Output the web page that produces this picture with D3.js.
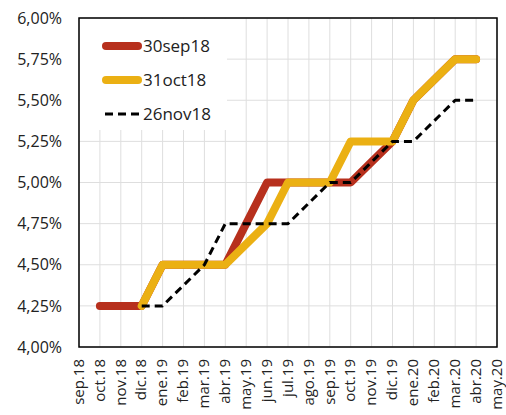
<!DOCTYPE html>
<html>
<head>
<meta charset="utf-8">
<script src="https://cdn.jsdelivr.net/npm/d3@7"></script>
<style>
  body { margin: 0; background: #fff; }
  text { font-family: "Open Sans", sans-serif; fill: #222; }
</style>
</head>
<body>
<svg id="chart" width="506" height="415"></svg>
<script>
var months = ['sep.18', 'oct.18', 'nov.18', 'dic.18', 'ene.19', 'feb.19', 'mar.19', 'abr.19',
  'may.19', 'jun.19', 'jul.19', 'ago.19', 'sep.19', 'oct.19', 'nov.19', 'dic.19',
  'ene.20', 'feb.20', 'mar.20', 'abr.20', 'may.20'];

var sep18 = [null, 4.25, 4.25, 4.25, 4.5, 4.5, 4.5, 4.5, 4.75, 5.0, 5.0, 5.0, 5.0, 5.0,
  5.125, 5.25, 5.5, 5.625, 5.75, 5.75, null];
var oct18 = [null, null, null, 4.25, 4.5, 4.5, 4.5, 4.5, 4.625, 4.75, 5.0, 5.0, 5.0, 5.25,
  5.25, 5.25, 5.5, 5.625, 5.75, 5.75, null];
var nov18 = [null, null, null, 4.25, 4.25, 4.375, 4.5, 4.75, 4.75, 4.75, 4.75, 4.875, 5.0, 5.0,
  5.125, 5.25, 5.25, 5.375, 5.5, 5.5, null];

var seriesNames = ['30sep18', '31oct18', '26nov18'];
var yTicks = [4.0, 4.25, 4.5, 4.75, 5.0, 5.25, 5.5, 5.75, 6.0];

var svg = d3.select('#chart'),
  margin = { top: 18, right: 9, bottom: 68, left: 79 },
  w = svg.attr('width') - margin.left - margin.right,
  h = svg.attr('height') - margin.top - margin.bottom;

var x = d3.scalePoint().domain(months).range([0, w]),
  y = d3.scaleLinear().domain([4, 6]).range([h, 0]);

var g = svg.append('g')
  .attr('transform', 'translate(' + margin.left + ',' + margin.top + ')');

// grid
g.append('g')
  .selectAll('line.v')
  .data(months)
  .enter()
  .append('line')
  .attr('x1', d => x(d)).attr('x2', d => x(d))
  .attr('y1', 0).attr('y2', h)
  .attr('stroke', '#dedede').attr('stroke-width', 1);

g.append('g')
  .selectAll('line.h')
  .data(yTicks)
  .enter()
  .append('line')
  .attr('x1', 0).attr('x2', w)
  .attr('y1', d => y(d)).attr('y2', d => y(d))
  .attr('stroke', '#dedede').attr('stroke-width', 1);

// legend background hides the grid
g.append('rect')
  .attr('x', 1).attr('y', 1)
  .attr('width', 147).attr('height', 111)
  .attr('fill', '#fff');

// axes
var fmt = d => d3.format('.2f')(d).replace('.', ',') + '%';

var yAxis = g.append('g')
  .call(d3.axisLeft(y).tickValues(yTicks).tickFormat(fmt).tickSize(0).tickPadding(17));
yAxis.select('.domain').remove();
yAxis.selectAll('text').style('font-size', '16px').attr('fill', '#222');

var xAxis = g.append('g')
  .attr('transform', 'translate(0,' + h + ')')
  .call(d3.axisBottom(x).tickSize(0));
xAxis.select('.domain').remove();
xAxis.selectAll('text')
  .style('font-size', '15px')
  .attr('fill', '#222')
  .attr('transform', 'rotate(-90)')
  .attr('text-anchor', 'end')
  .attr('x', -12)
  .attr('y', -1)
  .attr('dy', '0.35em');

g.append('rect')
  .attr('x', 0).attr('y', 0)
  .attr('width', w).attr('height', h)
  .attr('fill', 'none')
  .attr('stroke', '#000').attr('stroke-width', 1.5);

// lines
var line = d3.line()
  .defined(d => d.v != null)
  .x(d => x(d.m))
  .y(d => y(d.v));

function pts(arr) {
  return months.map((m, i) => ({ m: m, v: arr[i] }));
}

var styles = [
  { data: sep18, color: '#b7301d', width: 8, dash: null, cap: 'round' },
  { data: oct18, color: '#ebb013', width: 8, dash: null, cap: 'round' },
  { data: nov18, color: '#000', width: 3, dash: '8,5', cap: 'butt' }
];

styles.forEach(function(s) {
  g.append('path')
    .datum(pts(s.data))
    .attr('d', line)
    .attr('fill', 'none')
    .attr('stroke', s.color)
    .attr('stroke-width', s.width)
    .attr('stroke-linecap', s.cap)
    .attr('stroke-linejoin', 'round')
    .attr('stroke-dasharray', s.dash);
});

// legend
var leg = g.append('g').attr('transform', 'translate(23,28)');
styles.forEach(function(s, i) {
  var row = leg.append('g').attr('transform', 'translate(0,' + i * 34 + ')');
  row.append('line')
    .attr('x1', s.cap === 'round' ? 4 : 3).attr('x2', s.cap === 'round' ? 36 : 39)
    .attr('y1', 0).attr('y2', 0)
    .attr('stroke', s.color)
    .attr('stroke-width', s.width)
    .attr('stroke-linecap', s.cap)
    .attr('stroke-dasharray', s.dash);
  row.append('text')
    .attr('x', 41).attr('y', 0).attr('dy', '0.35em')
    .style('font-size', '17px')
    .text(seriesNames[i]);
});
</script>
</body>
</html>
